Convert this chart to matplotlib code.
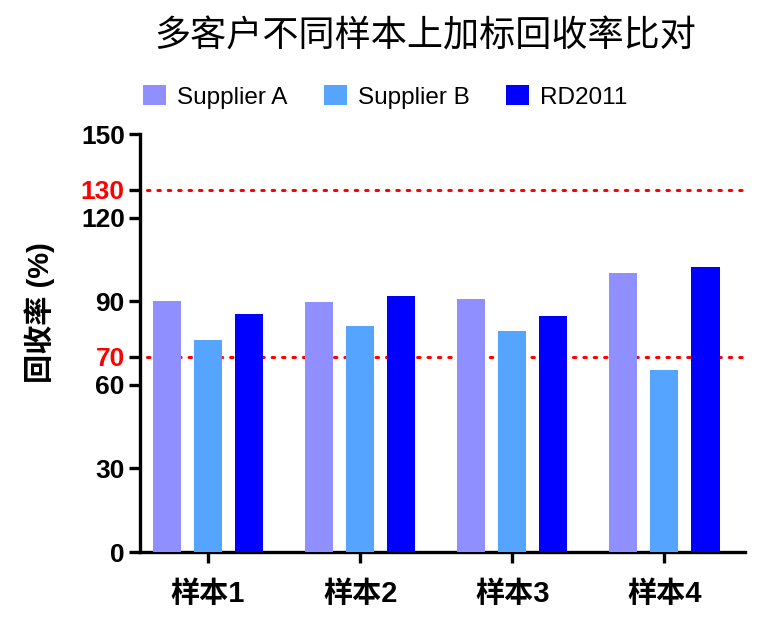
import matplotlib
matplotlib.use("Agg")
import matplotlib.pyplot as plt
import numpy as np

plt.rcParams["font.family"] = ["Liberation Sans", "Noto Sans CJK SC"]

samples = ["样本1", "样本2", "样本3", "样本4"]
series = ["Supplier A", "Supplier B", "RD2011"]
supplier_a = [90.1, 89.7, 90.8, 100.1]
supplier_b = [76.1, 81.1, 79.3, 65.3]
rd2011 = [85.4, 91.9, 84.7, 102.3]
colors = ["#8F8FFF", "#55A4FF", "#0000FF"]
limits = [70, 130]
yticks = [0, 30, 60, 90, 120, 150]

fig = plt.figure(figsize=(7.81, 6.34), dpi=100)
ax = fig.add_axes([0.1793, 0.1293, 0.7746, 0.6593])

x = np.arange(len(samples))
width = 0.185
step = 0.27
for i, (vals, color, name) in enumerate(zip([supplier_a, supplier_b, rd2011], colors, series)):
    ax.bar(x + (i - 1) * step, vals, width, color=color, label=name, zorder=3)

for lim in limits:
    ax.plot([-0.4, 3.53], [lim, lim], color="red", linestyle=(0, (0.8, 2.6)),
            linewidth=2.2, dash_capstyle="round", zorder=2, clip_on=False)

ax.set_xlim(-0.447, 3.53)
ax.set_ylim(0, 150)
ticks = sorted(yticks + limits)
ax.set_yticks(ticks)
ax.set_yticklabels([str(t) for t in ticks], fontsize=19, fontweight="bold")
for lab, t in zip(ax.get_yticklabels(), ticks):
    if t in limits:
        lab.set_color("red")
ax.set_xticks(x)
ax.set_xticklabels(samples, fontsize=21, fontweight="bold")

for side in ["top", "right"]:
    ax.spines[side].set_visible(False)
for side in ["left", "bottom"]:
    ax.spines[side].set_linewidth(2.4)
ax.tick_params(axis="both", width=2.4, length=8, pad=3)
ax.tick_params(axis="x", pad=12)

ax.set_ylabel("回收率 (%)", fontsize=21, fontweight="bold")
ax.yaxis.set_label_coords(-0.14, 0.572)

fig.suptitle("多客户不同样本上加标回收率比对", fontsize=26, x=0.544, y=0.942, va="center")
fig.legend(loc="center", bbox_to_anchor=(0.493, 0.847), ncol=3, frameon=False,
           fontsize=17.5, handlelength=0.95, handleheight=0.9, handletextpad=0.45,
           columnspacing=1.5)

fig.savefig("out.png", dpi=100)
